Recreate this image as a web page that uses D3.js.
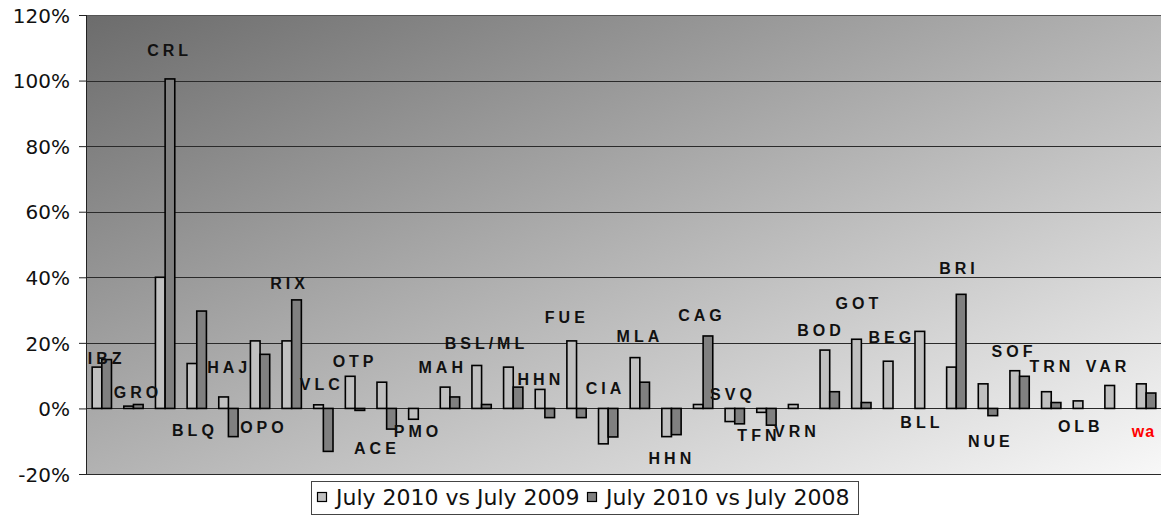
<html>
<head>
<meta charset="utf-8">
<title>July traffic change</title>
<style>
  body { margin: 0; background: #fff; }
</style>
</head>
<body>
<script src="https://cdn.jsdelivr.net/npm/d3@7/dist/d3.min.js"></script>
<script>
// airports, one group of two bars each
var categories = ["IBZ","GRO","CRL","BLQ","HAJ","OPO","RIX","VLC","OTP","ACE","PMO","MAH","BSL/ML","","HHN","FUE","CIA","MLA","HHN","CAG","SVQ","TFN","VRN","BOD","GOT","BEG","BLL","BRI","NUE","SOF","TRN","OLB","VAR","wa"];
var vs2009 = [12.6,0.7,40.0,13.7,3.5,20.6,20.6,1.1,9.8,8.0,-3.3,6.5,13.1,12.6,5.8,20.6,-10.8,15.5,-8.6,1.2,-4.0,-1.2,1.2,17.8,21.1,14.4,23.5,12.6,7.5,11.5,5.1,2.3,7.0,7.5];
var vs2008 = [14.9,1.2,100.5,29.7,-8.6,16.5,33.1,-13.1,-0.6,-6.3,null,3.5,1.2,6.5,-2.8,-2.8,-8.7,8.0,-8.0,22.1,-4.7,-5.1,null,5.1,1.8,null,null,34.8,-2.2,9.8,1.8,null,null,4.7];
// where each label was dropped: [category position, value in %]
var labelAt = [[0.09,13.5],[1.08,3.2],[2.08,107.5],[2.88,-8.4],[3.96,10.8],[5.06,-7.5],[5.87,36.4],[6.89,5.6],[7.94,12.6],[8.63,-13.9],[9.93,-8.7],[10.71,10.8],[12.09,18.1],null,[13.81,7.1],[14.63,26.0],[15.85,4.4],[16.94,20.3],[17.95,-17.0],[18.9,26.7],[19.88,2.6],[20.7,-9.9],[21.9,-8.7],[22.66,22.1],[23.86,30.3],[24.9,19.9],[25.85,-6.0],[27.02,41.0],[28.03,-11.8],[28.76,15.7],[29.96,11.1],[30.87,-7.2],[31.73,11.1],[32.9,-8.7]];
var seriesNames = ["July 2010 vs July 2009","July 2010 vs July 2008"];
var yTicks = [-20,0,20,40,60,80,100,120];

var width = 1161, height = 517;
var plotL = 86, plotR = 1162, plotT = 15, plotB = 474;

var svg = d3.select("body").append("svg")
  .attr("width", width)
  .attr("height", height);

var x = d3.scaleBand().domain(d3.range(categories.length)).range([plotL, plotR]);
var y = d3.scaleLinear().domain([-20, 120]).range([plotB, plotT]);
var bw = x.bandwidth() * 0.305;
var cx = function(i){ return x(i) + x.bandwidth()/2; };
var px = function(p){ return plotL + x.step() * (p + 0.5); };

// background gradient
var grad = svg.append("defs").append("linearGradient")
  .attr("id", "bg").attr("x1", 0).attr("y1", 0).attr("x2", 1).attr("y2", 1);
grad.append("stop").attr("offset", "0%").attr("stop-color", "#6c6c6c");
grad.append("stop").attr("offset", "100%").attr("stop-color", "#f8f8f8");

svg.append("rect")
  .attr("x", plotL).attr("y", plotT)
  .attr("width", plotR - plotL).attr("height", plotB - plotT)
  .attr("fill", "url(#bg)");

// grid
svg.append("g").selectAll("line")
  .data(yTicks)
  .enter().append("line")
  .attr("x1", plotL).attr("x2", plotR)
  .attr("y1", function(d){ return Math.round(y(d)) + 0.5; })
  .attr("y2", function(d){ return Math.round(y(d)) + 0.5; })
  .attr("stroke", function(d){ return d == 120 ? "#555" : "#2a2a2a"; })
  .attr("stroke-width", 1);

// light bars
svg.append("g").selectAll("rect")
  .data(vs2009)
  .enter().append("rect")
  .attr("x", function(d,i){ return cx(i) - bw; })
  .attr("y", function(d){ return y(Math.max(0, d)); })
  .attr("width", bw)
  .attr("height", function(d){ return Math.abs(y(d) - y(0)); })
  .attr("fill", "#c0c0c0")
  .attr("stroke", "#000")
  .attr("stroke-width", 1.6);

// dark bars
svg.append("g").selectAll("rect")
  .data(vs2008.map(function(v,i){ return {v:v, i:i}; }).filter(function(d){ return d.v !== null; }))
  .enter().append("rect")
  .attr("x", function(d){ return cx(d.i); })
  .attr("y", function(d){ return y(Math.max(0, d.v)); })
  .attr("width", bw)
  .attr("height", function(d){ return Math.abs(y(d.v) - y(0)); })
  .attr("fill", "#808080")
  .attr("stroke", "#000")
  .attr("stroke-width", 1.6);

// data labels
svg.append("g").selectAll("text")
  .data(categories.map(function(c,i){ return {name:c, at:labelAt[i]}; }).filter(function(d){ return d.at; }))
  .enter().append("text")
  .attr("x", function(d){ return px(d.at[0]) + (d.name == "wa" ? 0.5 : 2); })
  .attr("y", function(d){ return y(d.at[1]); })
  .attr("text-anchor", "middle")
  .attr("font-family", "Liberation Sans, Arial, sans-serif")
  .attr("font-weight", "bold")
  .attr("font-size", 16)
  .attr("letter-spacing", function(d){ return d.name == "wa" ? 1 : 4; })
  .attr("fill", function(d){ return d.name == "wa" ? "#ff0000" : "#111"; })
  .text(function(d){ return d.name; });

// y axis
var axis = svg.append("g")
  .attr("transform", "translate(" + plotL + ",0)")
  .call(d3.axisLeft(y).tickValues(yTicks).tickSize(7).tickPadding(9)
    .tickFormat(function(d){ return d + "%"; }));
axis.select(".domain").attr("stroke", "#222").attr("d", "M0.5," + plotT + "V" + plotB);
axis.selectAll(".tick line").attr("stroke", "#222");
axis.selectAll(".tick text")
  .attr("font-family", "DejaVu Sans, Verdana, sans-serif")
  .attr("font-size", 20)
  .attr("fill", "#111")
  .attr("dy", "0.36em");

// legend
var lg = svg.append("g");
lg.append("rect")
  .attr("x", 311.5).attr("y", 481.5)
  .attr("width", 547).attr("height", 33)
  .attr("fill", "#fff").attr("stroke", "#444");
var items = lg.selectAll("g")
  .data(seriesNames)
  .enter().append("g")
  .attr("transform", function(d,i){ return "translate(" + (i == 0 ? 317 : 587) + ",0)"; });
items.append("rect")
  .attr("x", 0.5).attr("y", 492.5)
  .attr("width", 9).attr("height", 9)
  .attr("fill", function(d,i){ return i == 0 ? "#c0c0c0" : "#808080"; })
  .attr("stroke", "#000").attr("stroke-width", 1.2);
items.append("text")
  .attr("x", 19).attr("y", 505)
  .attr("font-family", "DejaVu Sans, Verdana, sans-serif")
  .attr("font-size", 22)
  .attr("fill", "#111")
  .text(function(d){ return d; });
</script>
</body>
</html>
